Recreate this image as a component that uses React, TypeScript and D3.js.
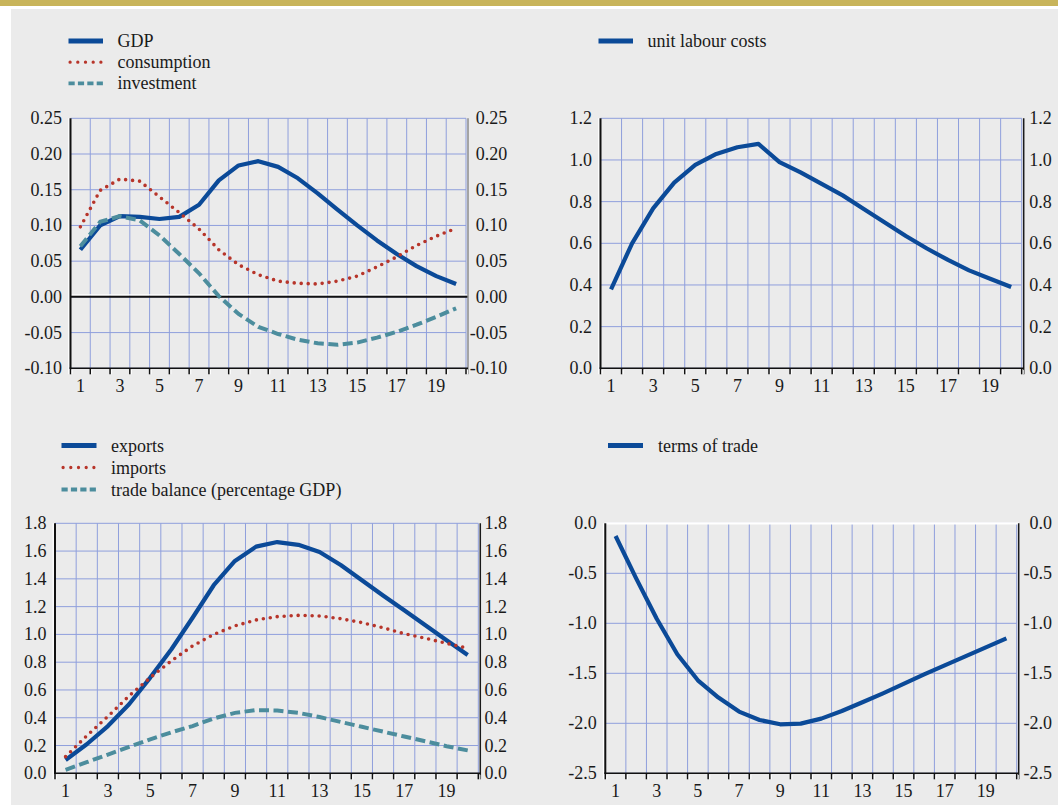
import React from "react";
import * as d3 from "d3";

// ---------- data ----------
const periods = [1, 2, 3, 4, 5, 6, 7, 8, 9, 10, 11, 12, 13, 14, 15, 16, 17, 18, 19, 20];
const xTickLabels = [1, 3, 5, 7, 9, 11, 13, 15, 17, 19];

const gdp = [0.066, 0.1, 0.113, 0.112, 0.109, 0.112, 0.129, 0.163, 0.184, 0.19, 0.182, 0.166, 0.145, 0.122, 0.1, 0.079, 0.06, 0.043, 0.029, 0.018];
const consumption = [0.098, 0.149, 0.165, 0.162, 0.14, 0.118, 0.095, 0.066, 0.045, 0.031, 0.022, 0.019, 0.018, 0.022, 0.029, 0.042, 0.056, 0.072, 0.085, 0.096];
const investment = [0.071, 0.105, 0.113, 0.107, 0.086, 0.06, 0.033, 0.001, -0.024, -0.042, -0.052, -0.06, -0.065, -0.067, -0.064, -0.057, -0.049, -0.039, -0.028, -0.016];

const unitLabourCosts = [0.379, 0.6, 0.768, 0.891, 0.976, 1.029, 1.061, 1.077, 0.99, 0.94, 0.885, 0.83, 0.765, 0.7, 0.635, 0.575, 0.52, 0.47, 0.43, 0.39];

const exportsS = [0.096, 0.209, 0.34, 0.497, 0.689, 0.893, 1.12, 1.354, 1.529, 1.632, 1.665, 1.645, 1.593, 1.5, 1.39, 1.28, 1.174, 1.066, 0.958, 0.852];
const importsS = [0.12, 0.27, 0.41, 0.557, 0.689, 0.81, 0.917, 1.0, 1.061, 1.104, 1.128, 1.137, 1.133, 1.113, 1.085, 1.048, 1.005, 0.972, 0.936, 0.9];
const tradeBalance = [0.025, 0.08, 0.135, 0.19, 0.245, 0.295, 0.34, 0.395, 0.435, 0.455, 0.452, 0.435, 0.405, 0.37, 0.335, 0.3, 0.265, 0.23, 0.195, 0.165];

const termsOfTrade = [-0.127, -0.55, -0.955, -1.31, -1.57, -1.743, -1.883, -1.967, -2.01, -2.003, -1.953, -1.877, -1.79, -1.7, -1.605, -1.51, -1.42, -1.33, -1.24, -1.15];

const ticksP1 = [-0.1, -0.05, 0, 0.05, 0.1, 0.15, 0.2, 0.25];
const ticksP2 = [0, 0.2, 0.4, 0.6, 0.8, 1.0, 1.2];
const ticksP3 = [0, 0.2, 0.4, 0.6, 0.8, 1.0, 1.2, 1.4, 1.6, 1.8];
const ticksP4 = [-2.5, -2.0, -1.5, -1.0, -0.5, 0];

// ---------- styles ----------
const BLUE = "#0b4a98";
const RED = "#b7352a";
const TEAL = "#4c8d9d";
const GRID = "#8f9fdc";
const BG = "#ebebeb";
const FONT = "'Liberation Serif', 'Times New Roman', serif";

type Kind = "solid" | "dot" | "dash";
const lineStyle: Record<Kind, any> = {
  solid: { stroke: BLUE, strokeWidth: 4.2, strokeLinejoin: "round" },
  dot: { stroke: RED, strokeWidth: 3.6, strokeDasharray: "0 7", strokeLinecap: "round" },
  dash: { stroke: TEAL, strokeWidth: 4, strokeDasharray: "10 4.5" },
};
const legendStyle: Record<Kind, any> = {
  solid: { stroke: BLUE, strokeWidth: 5 },
  dot: { stroke: RED, strokeWidth: 3.3, strokeDasharray: "0 7.7", strokeLinecap: "round" },
  dash: { stroke: TEAL, strokeWidth: 3.8, strokeDasharray: "6.2 3.2" },
};

type Series = { name: string; values: number[]; kind: Kind };

type PanelProps = {
  left: number; right: number; top: number; bottom: number;
  domain: [number, number];
  ticks: number[];
  decimals: number;
  series: Series[];
  rightLabelX: number;
  rightAxisColor: string;
  zeroLine?: boolean;
  topWhite?: boolean;
  legend: { x1: number; x2: number; tx: number; y0: number; dy: number };
};

function Panel(p: PanelProps) {
  const x = d3.scaleBand<number>().domain(periods).range([p.left, p.right]).paddingInner(0).paddingOuter(0);
  const bw = x.bandwidth();
  const y = d3.scaleLinear().domain(p.domain).range([p.bottom, p.top]);
  const cx = (d: number) => (x(d) as number) + bw / 2;
  const f = d3.format(`.${p.decimals}f`);
  const fmt = (v: number) => f(v).replace("\u2212", "-");
  const line = d3.line<number>().x((_, i) => cx(periods[i])).y((v) => y(v)).curve(d3.curveLinear);
  const boundaries = periods.map((d) => (x(d) as number) + bw);

  return (
    <g>
      {p.ticks.map((t) => (
        <line key={"h" + t} x1={p.left} x2={p.right} y1={y(t)} y2={y(t)} stroke={GRID} strokeWidth={1} />
      ))}
      {boundaries.map((bx, i) => (
        <line key={"v" + i} x1={bx} x2={bx} y1={p.top} y2={p.bottom} stroke={GRID} strokeWidth={1} />
      ))}
      {p.zeroLine && (
        <g>
          <line x1={p.left} x2={p.right + 2} y1={y(0) - 2} y2={y(0) - 2} stroke="#ffffff" strokeWidth={1.2} />
          <line x1={p.left} x2={p.right + 2} y1={y(0)} y2={y(0)} stroke="#111" strokeWidth={2} />
        </g>
      )}
      {p.topWhite && <line x1={p.left} x2={p.right + 2} y1={p.top} y2={p.top} stroke="#ffffff" strokeWidth={2.2} />}
      <line x1={p.left - 1.8} x2={p.left - 1.8} y1={p.top} y2={p.bottom + 6} stroke="#ffffff" strokeWidth={1.2} />
      <line x1={p.left} x2={p.left} y1={p.top} y2={p.bottom} stroke="#111" strokeWidth={2} />
      <line x1={p.right + 2} x2={p.right + 2} y1={p.top} y2={p.bottom + 6} stroke={p.rightAxisColor} strokeWidth={1.5} />
      <line x1={p.left - 1} x2={p.right + 2} y1={p.bottom} y2={p.bottom} stroke="#111" strokeWidth={1.6} />
      {[p.left, ...boundaries].map((bx, i) => (
        <g key={"t" + i}>
          <line x1={bx} x2={bx} y1={p.bottom} y2={p.bottom + 6} stroke="#111" strokeWidth={1.5} />
          <line x1={bx + 1.6} x2={bx + 1.6} y1={p.bottom + 1.5} y2={p.bottom + 6} stroke="#ffffff" strokeWidth={1} />
        </g>
      ))}
      {p.ticks.map((t) => (
        <g key={"l" + t} fontFamily={FONT} fontSize={18} fill="#1a1a1a">
          <text x={p.left - 8.5} y={y(t) + 6} textAnchor="end">{fmt(t)}</text>
          <text x={p.rightLabelX} y={y(t) + 6} textAnchor="end">{fmt(t)}</text>
        </g>
      ))}
      {xTickLabels.map((d) => (
        <text key={"x" + d} x={cx(d)} y={p.bottom + 24} textAnchor="middle" fontFamily={FONT} fontSize={18} fill="#1a1a1a">{d}</text>
      ))}
      {p.series.map((s) => (
        <path key={s.name} d={line(s.values) || ""} fill="none" {...lineStyle[s.kind]} />
      ))}
      {p.series.map((s, i) => {
        const ly = p.legend.y0 + i * p.legend.dy;
        const off = s.kind === "dot" ? 1.6 : 0;
        return (
          <g key={"lg" + s.name}>
            <line x1={p.legend.x1 + off} x2={p.legend.x2} y1={ly} y2={ly} {...legendStyle[s.kind]} />
            <text x={p.legend.tx} y={ly + 6} fontFamily={FONT} fontSize={18} fill="#1a1a1a">{s.name}</text>
          </g>
        );
      })}
    </g>
  );
}

export default function App() {
  return (
    <svg width={1058} height={805} style={{ position: "absolute", left: 0, top: 0, display: "block" }}>
      <rect x={0} y={0} width={1058} height={805} fill="#ffffff" />
      <rect x={11} y={9} width={1047} height={796} fill={BG} />
      <rect x={0} y={0} width={1058} height={6} fill="#c8b45a" />

      <Panel
        left={70.5} right={466} top={118.3} bottom={368.3}
        domain={[-0.1, 0.25]} ticks={ticksP1} decimals={2}
        series={[
          { name: "GDP", values: gdp, kind: "solid" },
          { name: "consumption", values: consumption, kind: "dot" },
          { name: "investment", values: investment, kind: "dash" },
        ]}
        rightLabelX={507.3} rightAxisColor="#8c8c8c" zeroLine
        legend={{ x1: 68.5, x2: 103, tx: 117.5, y0: 41, dy: 21.2 }}
      />
      <Panel
        left={600.5} right={1021.7} top={118.3} bottom={368.3}
        domain={[0, 1.2]} ticks={ticksP2} decimals={1}
        series={[{ name: "unit labour costs", values: unitLabourCosts, kind: "solid" }]}
        rightLabelX={1051.7} rightAxisColor="#1a1a1a"
        legend={{ x1: 598.5, x2: 633, tx: 647.5, y0: 41, dy: 21.2 }}
      />
      <Panel
        left={55} right={478.3} top={523.3} bottom={773.3}
        domain={[0, 1.8]} ticks={ticksP3} decimals={1}
        series={[
          { name: "exports", values: exportsS, kind: "solid" },
          { name: "imports", values: importsS, kind: "dot" },
          { name: "trade balance (percentage GDP)", values: tradeBalance, kind: "dash" },
        ]}
        rightLabelX={507} rightAxisColor="#1a1a1a"
        legend={{ x1: 61.5, x2: 96.5, tx: 111, y0: 445.5, dy: 22 }}
      />
      <Panel
        left={605.3} right={1016.7} top={523.3} bottom={773.3}
        domain={[-2.5, 0]} ticks={ticksP4} decimals={1}
        series={[{ name: "terms of trade", values: termsOfTrade, kind: "solid" }]}
        rightLabelX={1052} rightAxisColor="#1a1a1a" topWhite
        legend={{ x1: 608, x2: 643, tx: 658, y0: 445.5, dy: 22 }}
      />
    </svg>
  );
}
